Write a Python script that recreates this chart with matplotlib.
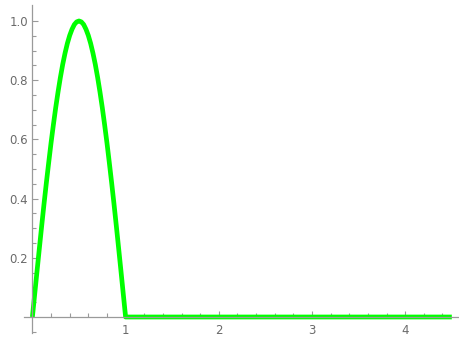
import matplotlib
matplotlib.use("Agg")
import matplotlib.pyplot as plt
from matplotlib.ticker import FixedLocator

# values
x_vals = [0.0, 0.025, 0.05, 0.075, 0.1, 0.125, 0.15, 0.175, 0.2, 0.225, 0.25,
          0.275, 0.3, 0.325, 0.35, 0.375, 0.4, 0.425, 0.45, 0.475, 0.5,
          0.525, 0.55, 0.575, 0.6, 0.625, 0.65, 0.675, 0.7, 0.725, 0.75,
          0.775, 0.8, 0.825, 0.85, 0.875, 0.9, 0.925, 0.95, 0.975, 1.0, 4.5]
y_vals = [0.0, 0.078, 0.156, 0.233, 0.309, 0.383, 0.454, 0.522, 0.588, 0.649, 0.707,
          0.760, 0.809, 0.853, 0.891, 0.924, 0.951, 0.972, 0.988, 0.997, 1.0,
          0.997, 0.988, 0.972, 0.951, 0.924, 0.891, 0.853, 0.809, 0.760, 0.707,
          0.649, 0.588, 0.522, 0.454, 0.383, 0.309, 0.233, 0.156, 0.078, 0.0, 0.0]
x_ticks = [1, 2, 3, 4]
x_tick_labels = ["1", "2", "3", "4"]
y_ticks = [0.2, 0.4, 0.6, 0.8, 1.0]
y_tick_labels = ["0.2", "0.4", "0.6", "0.8", "1.0"]

axis_color = "#9a9a9a"
label_color = "#6a6a6a"

fig = plt.figure(figsize=(4.6, 3.41), dpi=100)
ax = fig.add_axes([0.0522, 0.0235, 0.945, 0.961])
ax.plot(x_vals, y_vals, color="#00ff00", lw=3.4, solid_joinstyle="round",
        solid_capstyle="butt", zorder=2)
ax.set_xlim(-0.09, 4.574)
ax.set_ylim(-0.054, 1.053)

for s in ["top", "right"]:
    ax.spines[s].set_visible(False)
ax.spines["left"].set_position(("data", 0))
ax.spines["bottom"].set_position(("data", 0))
for s in ["left", "bottom"]:
    ax.spines[s].set_color(axis_color)
    ax.spines[s].set_linewidth(0.9)

ax.xaxis.set_major_locator(FixedLocator(x_ticks))
ax.set_xticklabels(x_tick_labels)
ax.xaxis.set_minor_locator(FixedLocator([v / 5 for v in range(0, 23) if v % 5 != 0]))
ax.yaxis.set_major_locator(FixedLocator(y_ticks))
ax.set_yticklabels(y_tick_labels)
ax.yaxis.set_minor_locator(FixedLocator([-0.05] + [v / 20 for v in range(1, 21) if v % 4 != 0]))

ax.tick_params(which="both", direction="in", color=axis_color, width=0.8,
               labelcolor=label_color, labelsize=8.5)
ax.tick_params(which="major", length=4)
ax.tick_params(which="minor", length=2.6)
ax.tick_params(axis="x", which="major", pad=5)
ax.tick_params(axis="y", which="major", pad=3)

fig.savefig("out.png", dpi=100)
